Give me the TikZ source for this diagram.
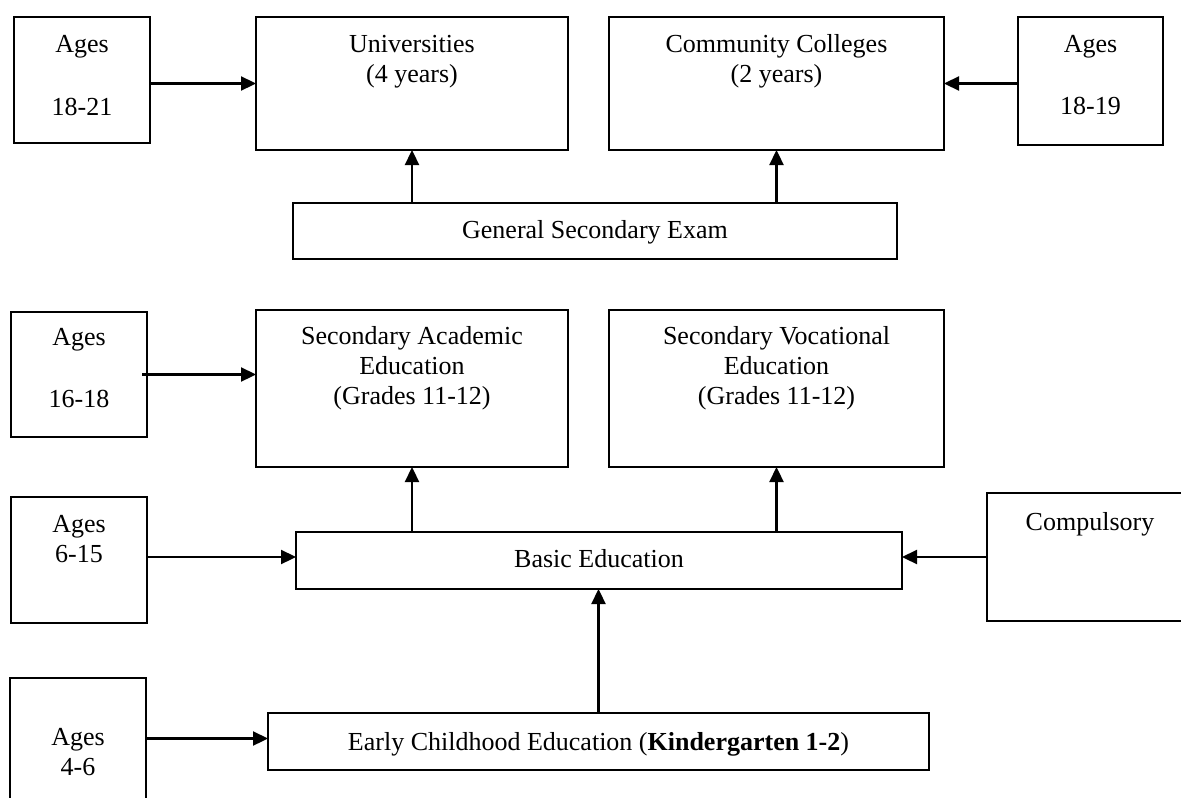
\documentclass[tikz,border=0pt]{standalone}
\usepackage{fontspec}
\setmainfont{Liberation Serif}
\usetikzlibrary{arrows.meta}
\newcommand\boxtxt[4]{\parbox[c][#2pt][t]{#1pt}{\centering\rule{0pt}{#3pt}#4}}
\begin{document}
\begin{tikzpicture}[x=1pt,y=-1pt,
  bx/.style={draw=black, line width=1.5pt, inner sep=0pt, outer sep=0pt, anchor=north west,
    font=\fontsize{26}{30}\selectfont},
  arr/.style={line width=2.3pt, -{Triangle[length=15pt,width=14pt]}}]
\useasboundingbox (0,0) rectangle (1181,798);
\clip (0,0) rectangle (1181,798);
\fill[white] (0,0) rectangle (1181,798);
% top row
\node[bx] (a1821) at (14,17) {\boxtxt{136}{126}{35}{Ages\\[33pt]18-21}};
\node[bx] (univ) at (256,17) {\boxtxt{312}{133}{35}{Universities\\(4 years)}};
\node[bx] (cc) at (609,17) {\boxtxt{335}{133}{35}{Community Colleges\\(2 years)}};
\node[bx] (a1819) at (1018,17) {\boxtxt{145}{128}{35}{Ages\\[32pt]18-19}};
\node[bx] (gs) at (293,203) {\boxtxt{604}{56}{35}{General Secondary Exam}};
% middle
\node[bx] (a1618) at (11,312) {\boxtxt{136}{125}{33}{Ages\\[32pt]16-18}};
\node[bx] (sae) at (256,310) {\boxtxt{312}{157}{34}{Secondary Academic\\Education\\(Grades 11-12)}};
\node[bx] (sve) at (609,310) {\boxtxt{335}{157}{34}{Secondary Vocational\\Education\\(Grades 11-12)}};
\node[bx] (a615) at (11,497) {\boxtxt{136}{126}{35}{Ages\\6-15}};
\node[bx] (be) at (296,532) {\boxtxt{606}{57}{35}{Basic Education}};
\node[bx] (comp) at (987,493) {\boxtxt{206}{128}{37}{Compulsory}};
% bottom
\node[bx] (a46) at (10,678) {\boxtxt{136}{140}{67}{Ages\\4-6}};
\node[bx] (ec) at (268,713) {\boxtxt{661}{57}{37}{Early Childhood Education (\textbf{Kindergarten 1-2})}};
% arrows
\draw[arr] (a1821.east |- univ.west) -- (univ.west);
\draw[arr] (a1819.west |- cc.east) -- (cc.east);
\draw[arr] (univ.south |- gs.north) -- (univ.south);
\draw[arr] (cc.south |- gs.north) -- (cc.south);
\draw[arr] ([xshift=-5pt]a1618.east) -- (a1618.east -| sae.west);
\draw[arr] (sae.south |- be.north) -- (sae.south);
\draw[arr] (sve.south |- be.north) -- (sve.south);
\draw[arr] ([yshift=3pt]a615.east) -- ([yshift=3pt]a615.east -| be.west);
\draw[arr] (comp.west) -- (comp.west -| be.east);
\draw[arr] (ec.north) -- (ec.north |- be.south);
\draw[arr] ([yshift=3pt]a46.east |- ec.west) -- ([yshift=3pt]ec.west);
\end{tikzpicture}
\end{document}
